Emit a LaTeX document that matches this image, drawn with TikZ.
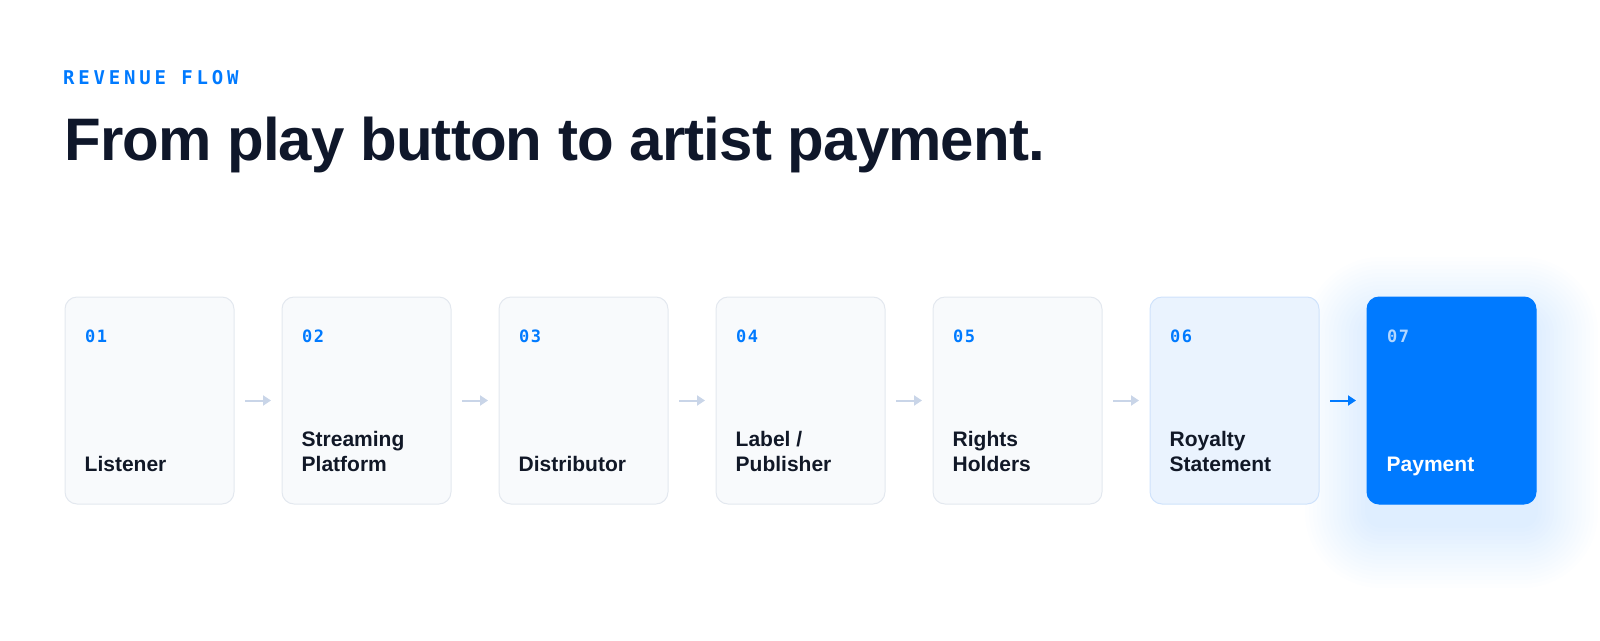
\documentclass[tikz,border=0pt]{standalone}
\usepackage{fontspec}
\setmainfont{Liberation Sans}
\newfontfamily\titlefont{Liberation Sans}[LetterSpace=-1.5]
\newfontfamily\monofont{DejaVu Sans Mono}[LetterSpace=8]
\newfontfamily\kickerfont{DejaVu Sans Mono}[LetterSpace=20]
\usetikzlibrary{positioning,backgrounds,arrows.meta}

\definecolor{accent}{HTML}{007AFF}
\definecolor{ink}{HTML}{0F172A}
\definecolor{labelink}{HTML}{111827}
\definecolor{cardfill}{HTML}{F8FAFC}
\definecolor{cardline}{HTML}{E3E8EF}
\definecolor{softfill}{HTML}{EAF3FE}
\definecolor{softline}{HTML}{CFE2FB}
\definecolor{arrowgrey}{HTML}{C9D5E8}

\begin{document}
\begin{tikzpicture}[x=1pt, y=1pt,
		card/.style={draw=cardline, fill=cardfill, line width=1pt, rounded corners=12pt,
			minimum width=169pt, minimum height=207pt, inner sep=0, outer sep=0},
		num/.style={anchor=base west, inner sep=0, text=accent, font=\fontsize{17}{20}\selectfont\monofont\bfseries},
		lbl/.style={anchor=south west, inner sep=0, align=left, text=labelink,
			font=\fontsize{21}{25}\selectfont\bfseries},
		flow/.style={draw=arrowgrey, line width=2pt, shorten <=11pt, shorten >=11pt,
			-{Triangle[length=8pt,width=10pt]}}]
		
		\useasboundingbox (0,0) rectangle (1600,-640);
		
		% heading
		\node [anchor=base west, inner sep=0, text=accent, font=\fontsize{19}{22}\selectfont\kickerfont\bfseries] (kicker) at (63,-84) {REVENUE FLOW};
		\node [anchor=base west, inner sep=0, text=ink, font=\fontsize{60}{70}\selectfont\titlefont\bfseries] (title) at (64,-160) {From play button to artist payment.};
		
		% cards
		\node [card] (b1) at (149.5,-400.5) {};
		\node [card, right=48pt of b1] (b2) {};
		\node [card, right=48pt of b2] (b3) {};
		\node [card, right=48pt of b3] (b4) {};
		\node [card, right=48pt of b4] (b5) {};
		\node [card, draw=softline, fill=softfill, right=48pt of b5] (b6) {};
		\node [card, draw=accent, fill=accent, right=48pt of b6] (b7) {};
		
		% glow under the last card
		\begin{scope}[on background layer]
			\foreach \g [evaluate=\g as \rc using 14+\g] in {2,6,...,62}
				\fill[accent, opacity=0.008, rounded corners=\rc pt]
					([shift={(-\g,-\g-22)}]b7.south west) rectangle ([shift={(\g,\g-22)}]b7.north east);
		\end{scope}
		
		% step numbers
		\node [num] (n1) at ([shift={(20,-45)}]b1.north west) {01};
		\node [num] (n2) at ([shift={(20,-45)}]b2.north west) {02};
		\node [num] (n3) at ([shift={(20,-45)}]b3.north west) {03};
		\node [num] (n4) at ([shift={(20,-45)}]b4.north west) {04};
		\node [num] (n5) at ([shift={(20,-45)}]b5.north west) {05};
		\node [num] (n6) at ([shift={(20,-45)}]b6.north west) {06};
		\node [num, text=white, text opacity=0.7] (n7) at ([shift={(20,-45)}]b7.north west) {07};
		
		% step names
		\node [lbl] (l1) at ([shift={(19.5,24.5)}]b1.south west) {Listener\strut};
		\node [lbl] (l2) at ([shift={(19.5,24.5)}]b2.south west) {Streaming\\Platform\strut};
		\node [lbl] (l3) at ([shift={(19.5,24.5)}]b3.south west) {Distributor\strut};
		\node [lbl] (l4) at ([shift={(19.5,24.5)}]b4.south west) {Label /\\Publisher\strut};
		\node [lbl] (l5) at ([shift={(19.5,24.5)}]b5.south west) {Rights\\Holders\strut};
		\node [lbl] (l6) at ([shift={(19.5,24.5)}]b6.south west) {Royalty\\Statement\strut};
		\node [lbl, text=white] (l7) at ([shift={(19.5,24.5)}]b7.south west) {Payment\strut};
		
		% arrows
		\draw [flow] (b1)--(b2);
		\draw [flow] (b2)--(b3);
		\draw [flow] (b3)--(b4);
		\draw [flow] (b4)--(b5);
		\draw [flow] (b5)--(b6);
		\draw [flow, draw=accent] (b6)--(b7);
		
	\end{tikzpicture}
\end{document}
